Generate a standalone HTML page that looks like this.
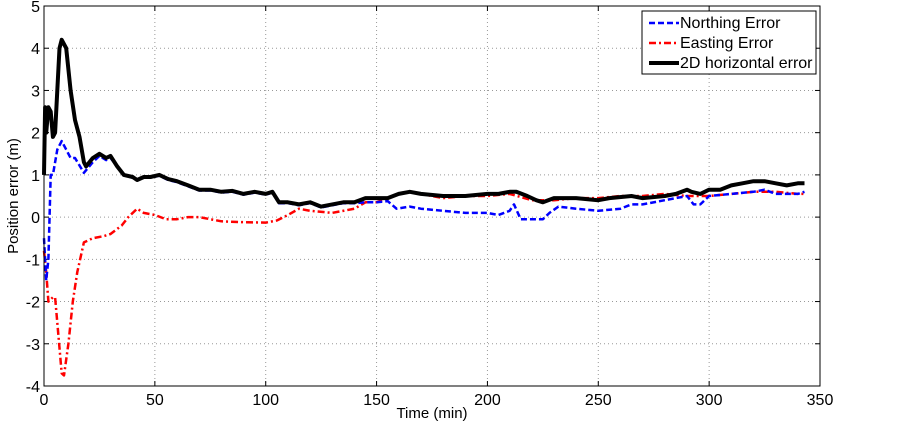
<!DOCTYPE html>
<html><head><meta charset="utf-8">
<style>
body{margin:0;background:#fff;}
svg{display:block;font-family:"Liberation Sans",Arial,sans-serif;}
</style></head>
<body>
<svg id="chart" width="902" height="423" viewBox="0 0 902 423"></svg>
<script>
const xTicks=[0,50,100,150,200,250,300,350];
const yTicks=[-4,-3,-2,-1,0,1,2,3,4,5];
const northT=[0,1,2,3,4,6,8,10,12,14,18,22,25,28,30,33,36,40,42,45,48,52,56,60,65,70,75,80,85,90,95,100,103,106,110,115,120,125,130,135,140,145,150,155,159,165,170,180,190,200,205,210,212,215,220,225,228,232,240,250,260,265,270,280,290,293,296,300,310,320,325,330,340,343];
const northV=[-0.5,-1.5,-1.0,1.0,1.0,1.6,1.8,1.6,1.4,1.4,1.05,1.3,1.45,1.35,1.4,1.2,1.0,0.93,0.88,0.93,0.93,0.98,0.88,0.83,0.73,0.63,0.63,0.58,0.6,0.53,0.58,0.53,0.58,0.33,0.33,0.28,0.33,0.23,0.28,0.33,0.33,0.35,0.35,0.38,0.2,0.25,0.2,0.15,0.1,0.1,0.05,0.15,0.3,-0.05,-0.05,-0.05,0.1,0.25,0.2,0.15,0.2,0.3,0.3,0.4,0.5,0.3,0.3,0.5,0.55,0.6,0.65,0.55,0.55,0.6];
const eastT=[0,1,2,4,5,6,8,9,11,13,15,18,22,27,30,35,38,42,45,50,55,60,65,70,75,80,90,100,105,110,115,120,130,140,145,150,155,160,165,170,180,190,200,210,220,230,240,250,260,270,280,290,300,310,320,330,340,343];
const eastV=[-0.8,-1.3,-2.0,-1.9,-1.9,-2.5,-3.7,-3.75,-3.0,-2.0,-1.3,-0.6,-0.5,-0.45,-0.4,-0.2,0.0,0.2,0.1,0.05,-0.05,-0.05,0.0,0.0,-0.05,-0.1,-0.12,-0.13,-0.08,0.05,0.2,0.15,0.1,0.2,0.35,0.35,0.45,0.55,0.6,0.55,0.45,0.5,0.5,0.55,0.4,0.4,0.45,0.45,0.5,0.5,0.55,0.5,0.5,0.55,0.6,0.6,0.55,0.55];
const horizT=[0,0.5,1,2,3,4,5,6,7,8,10,12,14,16,18,19,22,25,28,30,33,36,40,42,45,48,52,56,60,65,70,75,80,85,90,95,100,103,106,110,115,120,125,130,135,140,145,150,155,160,165,170,180,190,200,205,210,213,218,222,225,230,240,250,255,265,270,280,285,290,292,296,300,305,310,315,320,325,330,335,340,343];
const horizV=[1.0,2.6,2.0,2.6,2.5,1.9,2.0,3.0,4.0,4.2,4.0,3.0,2.3,1.9,1.3,1.2,1.4,1.5,1.4,1.45,1.2,1.0,0.95,0.88,0.95,0.95,1.0,0.9,0.85,0.75,0.65,0.65,0.6,0.62,0.55,0.6,0.55,0.6,0.35,0.35,0.3,0.35,0.25,0.3,0.35,0.35,0.45,0.45,0.45,0.55,0.6,0.55,0.5,0.5,0.55,0.55,0.6,0.6,0.5,0.4,0.35,0.45,0.45,0.4,0.45,0.5,0.45,0.5,0.55,0.65,0.6,0.55,0.65,0.65,0.75,0.8,0.85,0.85,0.8,0.75,0.8,0.8];

const L=44,R=820,T=6,B=386;
const xs=t=>L+(t-0)/350*(R-L);
const ys=v=>B-(v+4)/9*(B-T);
const svg=document.getElementById('chart');
const NS='http://www.w3.org/2000/svg';
function mk(tag,attrs,parent){const e=document.createElementNS(NS,tag);for(const k in attrs)e.setAttribute(k,attrs[k]);(parent||svg).appendChild(e);return e;}

const grid=mk('g',{});


xTicks.forEach(t=>{
  if(t>0&&t<350){const g=mk('line',{x1:xs(t),x2:xs(t),y1:T,y2:B,stroke:'#999','stroke-width':1,'stroke-dasharray':'1,3'},grid);
  
  }
  const tk=mk('line',{x1:xs(t),x2:xs(t),y1:B,y2:B-5,stroke:'#000'});
  
  
  const tk2=mk('line',{x1:xs(t),x2:xs(t),y1:T,y2:T+5,stroke:'#000'});
  
  
  const lb=mk('text',{x:xs(t),y:B+19,'text-anchor':'middle','font-size':16});
  lb.textContent=t;
  
  
});
yTicks.forEach(v=>{
  if(v>-4&&v<5){const g=mk('line',{x1:L,x2:R,y1:ys(v),y2:ys(v),stroke:'#999','stroke-width':1,'stroke-dasharray':'1,3'},grid);
  
  }
  const tk=mk('line',{x1:L,x2:L+5,y1:ys(v),y2:ys(v),stroke:'#000'});
  
  
  const tk2=mk('line',{x1:R,x2:R-5,y1:ys(v),y2:ys(v),stroke:'#000'});
  
  
  const lb=mk('text',{x:L-4,y:ys(v)+6,'text-anchor':'end','font-size':16});
  lb.textContent=v;
  
  
});
function series(ts,vs,attrs,name){
  const d=ts.map((t,i)=>(i?'L':'M')+xs(t).toFixed(1)+','+ys(vs[i]).toFixed(1)).join('');
  const p=mk('path',Object.assign({d:d,fill:'none','stroke-linejoin':'round'},attrs));
  
  
}
series(eastT,eastV,{stroke:'#f00','stroke-width':2.5,'stroke-dasharray':'7,3,2,3'},'easting-error-line');
series(northT,northV,{stroke:'#00f','stroke-width':2.5,'stroke-dasharray':'6,3'},'northing-error-line');
series(horizT,horizV,{stroke:'#000','stroke-width':4},'2d-horizontal-error-line');

const frame=mk('rect',{x:L,y:T,width:R-L,height:B-T,fill:'none',stroke:'#000','stroke-width':1});



const xt=mk('text',{x:(L+R)/2,y:418,'text-anchor':'middle','font-size':15});
xt.textContent='Time (min)';


const yt=mk('text',{x:0,y:0,'text-anchor':'middle','font-size':15,transform:'translate(18,'+((T+B)/2)+') rotate(-90)'});
yt.textContent='Position error (m)';



const lg=mk('g',{});


mk('rect',{x:642,y:11,width:174,height:63,fill:'#fff',stroke:'#000','stroke-width':1},lg);
const items=[['Northing Error',{stroke:'#00f','stroke-width':2.5,'stroke-dasharray':'6,3'}],['Easting Error',{stroke:'#f00','stroke-width':2.5,'stroke-dasharray':'7,3,2,3'}],['2D horizontal error',{stroke:'#000','stroke-width':4}]];
items.forEach((it,i)=>{
  const y=23+i*20;
  const g=mk('g',{},lg);
  
  
  mk('line',Object.assign({x1:649,x2:679,y1:y,y2:y},it[1]),g);
  const t=mk('text',{x:680,y:y+5,'font-size':16},g);
  t.textContent=it[0];
});
</script>
</body></html>
